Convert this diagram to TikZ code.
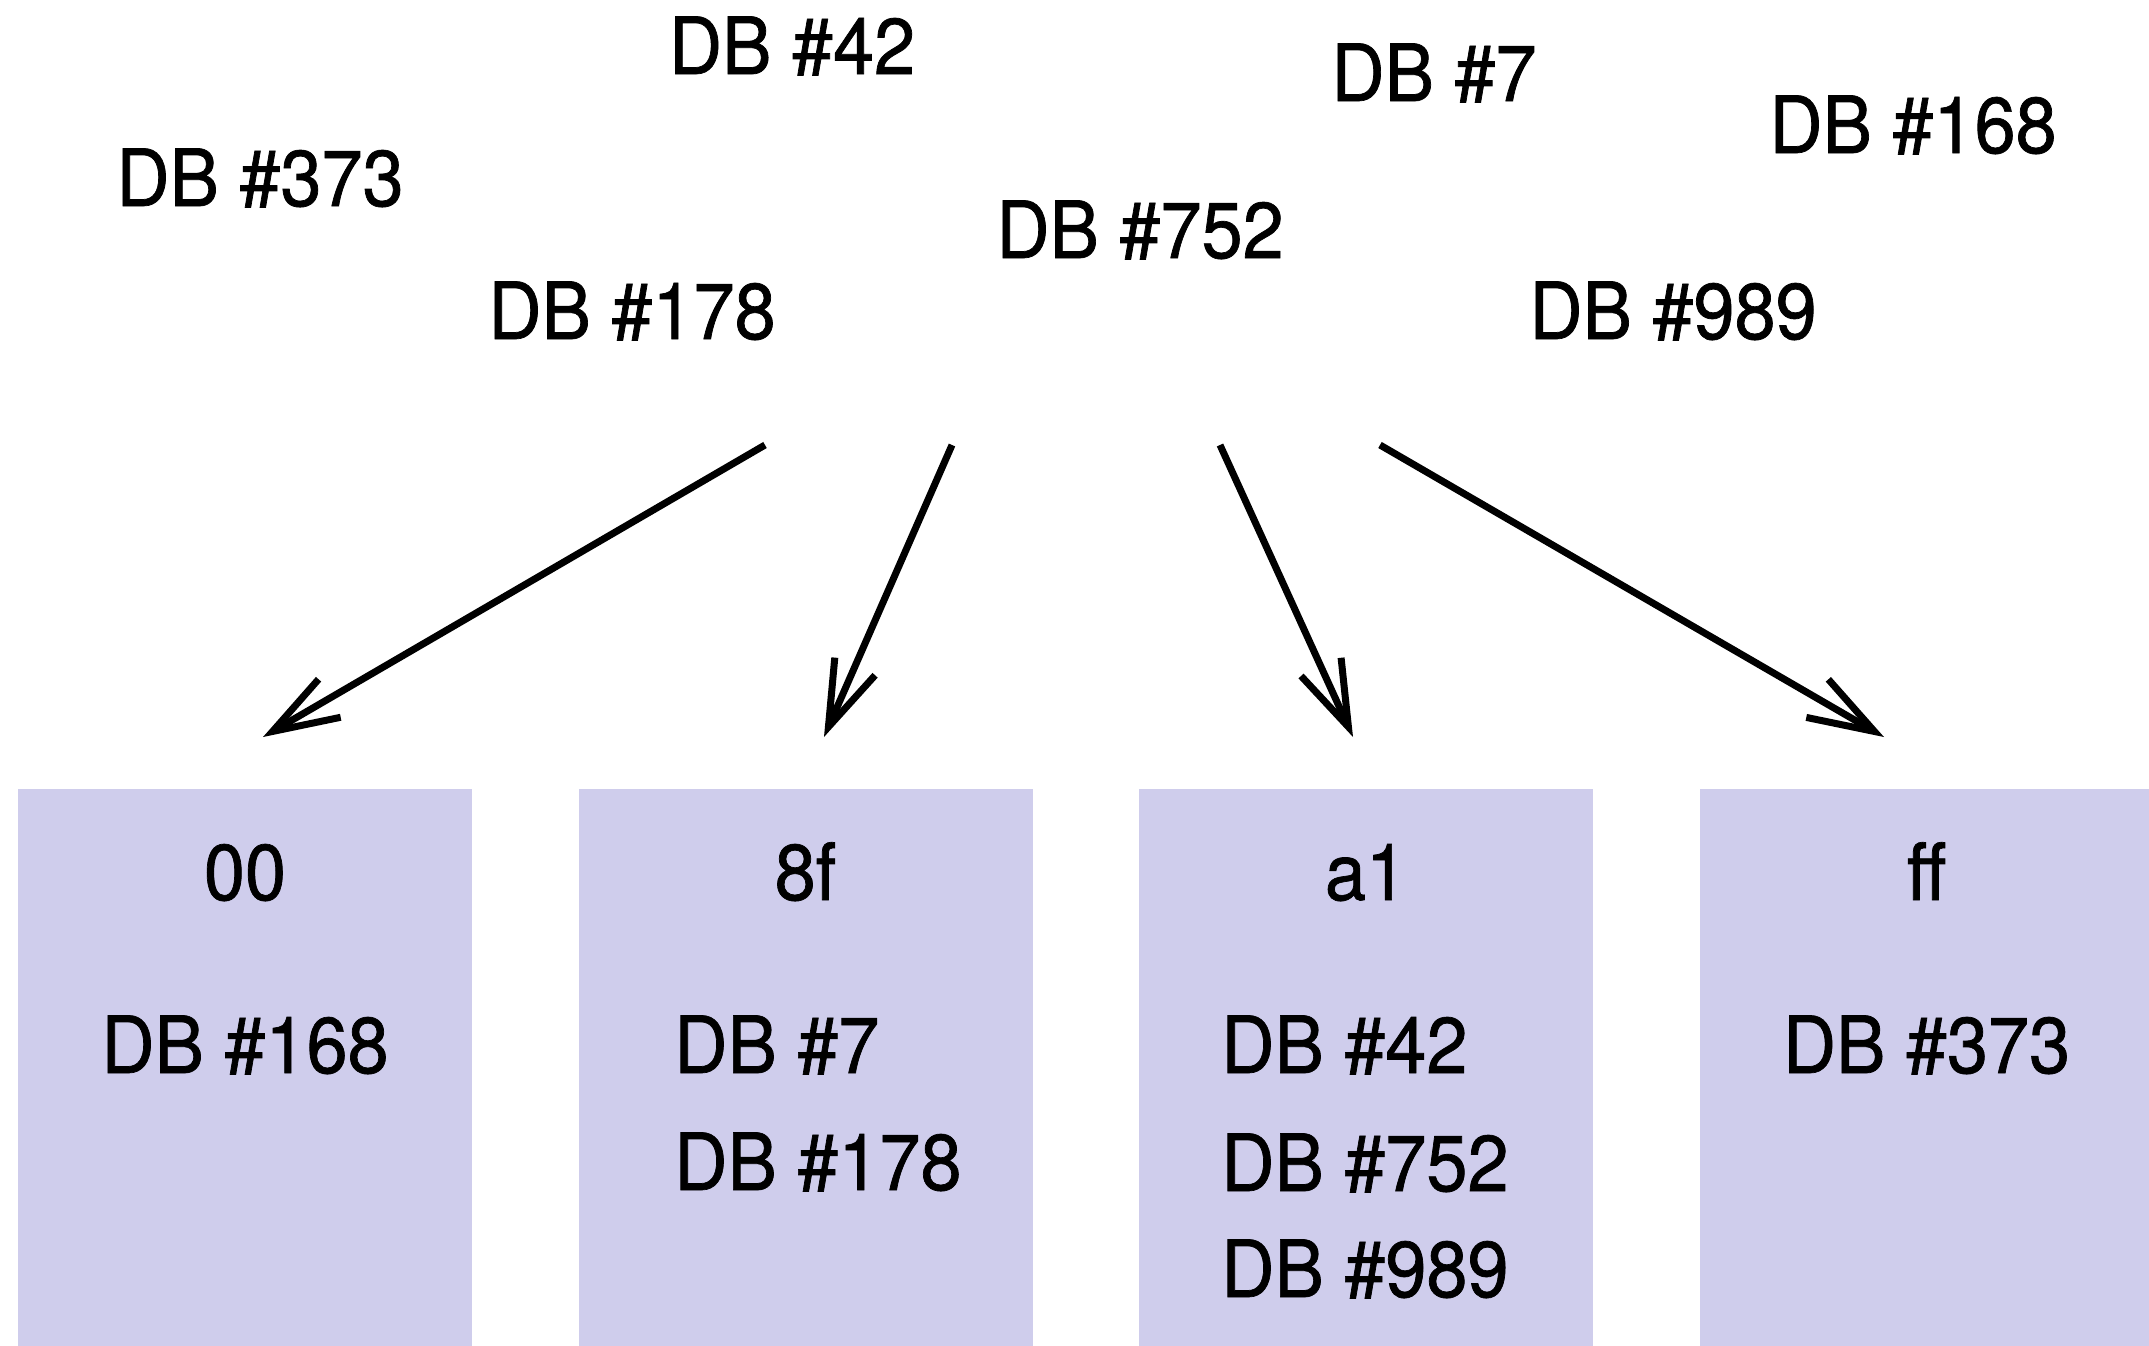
\documentclass[tikz,border=0pt]{standalone}
\usepackage{fontspec}
\setmainfont[FakeStretch=0.935,FakeBold=0.9]{TeX Gyre Heros}
\usetikzlibrary{arrows.meta}
\definecolor{bucket}{RGB}{207,205,236}
\begin{document}
\begin{tikzpicture}[x=1pt,y=-1pt,
  lbl/.style={inner sep=0pt,anchor=base,font=\fontsize{79}{90}\selectfont},
  lbll/.style={inner sep=0pt,anchor=base west,font=\fontsize{79}{90}\selectfont},
  bucketbox/.style={fill=bucket,draw=none,anchor=north west,inner sep=0pt,
    minimum width=454pt,minimum height=560pt},
  link/.style={line width=7pt,-{Straight Barb[length=66pt,width=44pt,sharp]}}]
\useasboundingbox (0,0) rectangle (2149,1345);
\fill[white] (0,0) rectangle (2149,1345);

% scattered database ids
\node[lbl] (u42)  at (792,74)   {DB \#42};
\node[lbl] (u7)   at (1434,101) {DB \#7};
\node[lbl] (u168) at (1913,153) {DB \#168};
\node[lbl] (u373) at (260,206)  {DB \#373};
\node[lbl] (u752) at (1140,258) {DB \#752};
\node[lbl] (u178) at (632,339)  {DB \#178};
\node[lbl] (u989) at (1673,339) {DB \#989};

% hash buckets
\node[bucketbox] (b1) at (18,789)   {};
\node[bucketbox] (b2) at (578.5,789) {};
\node[bucketbox] (b3) at (1139,789) {};
\node[bucketbox] (b4) at (1699.5,789) {};

\node[lbl] (h1) at (245,900)    {00};
\node[lbl] (h2) at (805.5,900)  {8f};
\node[lbl] (h3) at (1366,900)   {a1};
\node[lbl] (h4) at (1926.5,900) {ff};

\node[lbl]  (e168) at (245,1073)    {DB \#168};
\node[lbll] (e7)   at (674,1073)    {DB \#7};
\node[lbll] (e178) at (674,1190)    {DB \#178};
\node[lbll] (e42)  at (1221,1073)   {DB \#42};
\node[lbll] (e752) at (1221,1191)   {DB \#752};
\node[lbll] (e989) at (1221,1297)   {DB \#989};
\node[lbl]  (e373) at (1926.5,1073) {DB \#373};

% hashing arrows
\coordinate (s1) at (765,445);
\coordinate (s2) at (952,445);
\coordinate (s3) at (1220,445);
\coordinate (s4) at (1380,445);
\coordinate (t1) at (263,737);
\coordinate (t2) at (824,737);
\coordinate (t3) at (1353,737);
\coordinate (t4) at (1884,737);
\draw[link] (s1) -- (t1);
\draw[link] (s2) -- (t2);
\draw[link] (s3) -- (t3);
\draw[link] (s4) -- (t4);
\end{tikzpicture}
\end{document}
